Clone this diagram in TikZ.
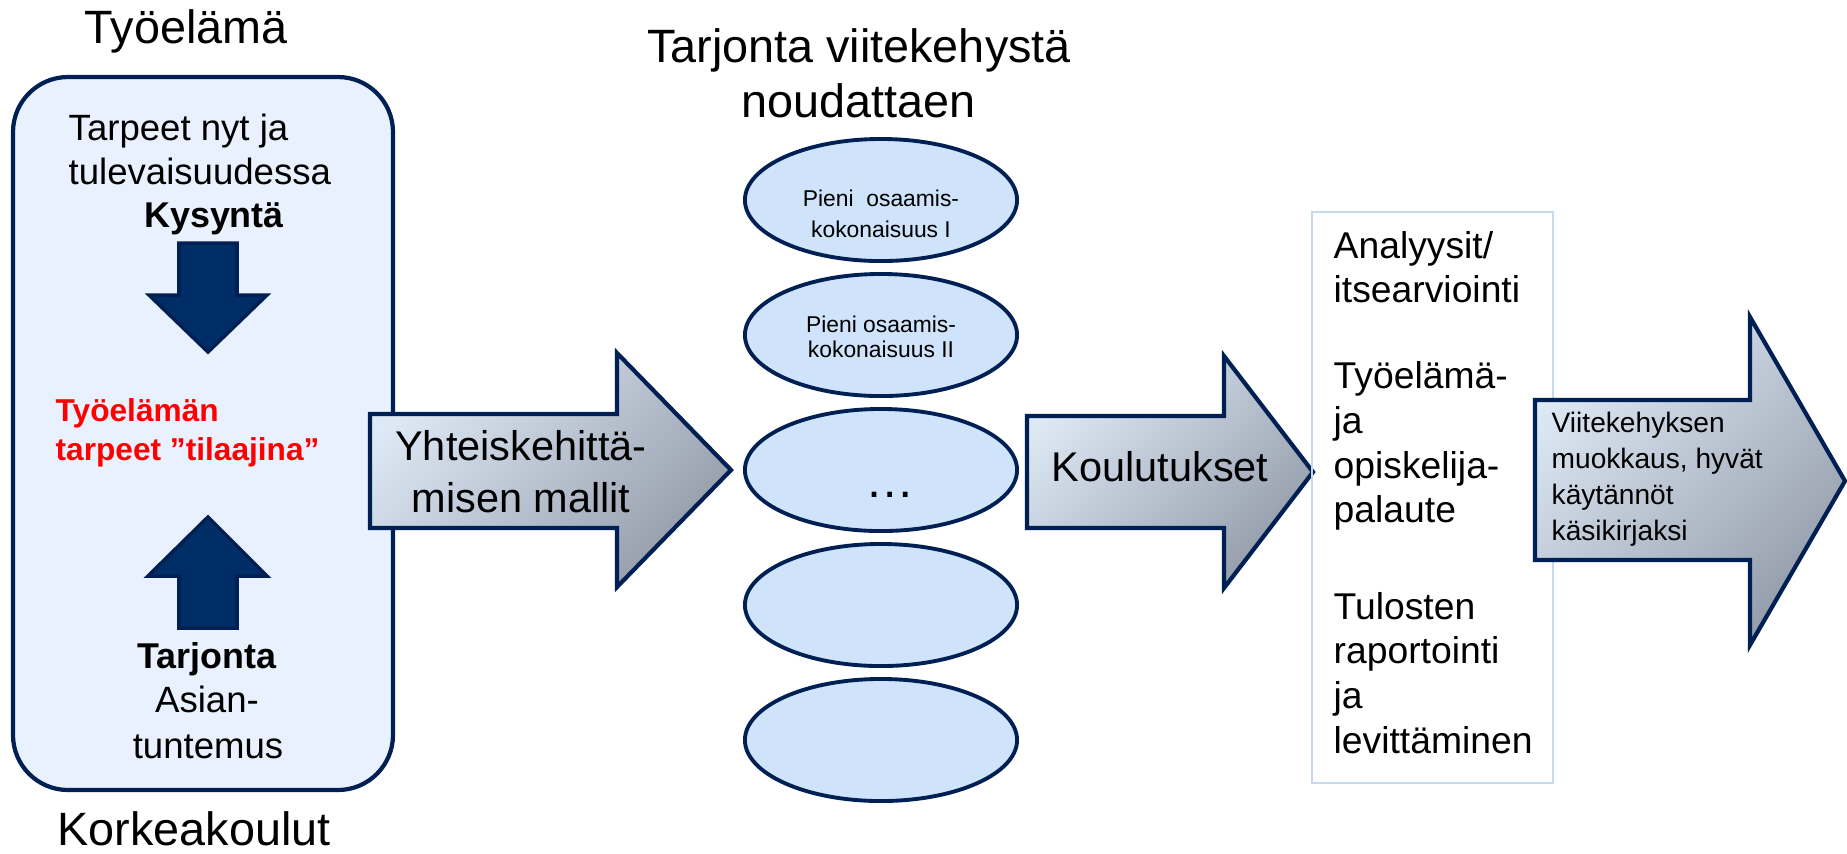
\documentclass[tikz,border=0pt]{standalone}
\usepackage{fontspec}
\setmainfont{Liberation Sans}
\usetikzlibrary{shapes.geometric}
\definecolor{navy}{RGB}{0,32,84}
\definecolor{navyfill}{RGB}{0,45,102}
\definecolor{boxfill}{RGB}{232,241,253}
\definecolor{ellfill}{RGB}{207,227,250}
\definecolor{shadelight}{RGB}{222,233,246}
\definecolor{shadedark}{RGB}{148,156,170}
\definecolor{thinblue}{RGB}{197,217,241}
\begin{document}
\begin{tikzpicture}[x=0.01cm,y=-0.01cm,
  txt/.style={inner sep=0pt,anchor=base},
  txtl/.style={inner sep=0pt,anchor=base west},
  titf/.style={font=\fontsize{13.3pt}{16pt}\selectfont},
  boxf/.style={font=\fontsize{10.4pt}{12.5pt}\selectfont},
  boxb/.style={font=\fontsize{10.2pt}{12.5pt}\selectfont\bfseries},
  redf/.style={font=\fontsize{9pt}{11pt}\selectfont\bfseries,text=red},
  arrf/.style={font=\fontsize{11.8pt}{14pt}\selectfont},
  listf/.style={font=\fontsize{10.6pt}{12.5pt}\selectfont},
  ellf/.style={font=\fontsize{6.5pt}{8pt}\selectfont},
  smallf/.style={font=\fontsize{8pt}{10pt}\selectfont},
  bigarrow/.style={draw=navy,line width=1.2pt,top color=shadelight,bottom color=shadedark,shading angle=45},
  smallarrow/.style={draw=navy,fill=navyfill,line width=1pt},
  pala/.style={ellipse,draw=navy,fill=ellfill,line width=1.1pt,minimum width=2.72cm,minimum height=1.22cm,inner sep=0pt}]
\useasboundingbox (0,0) rectangle (1847,853);

% tyoelama / korkeakoulut
\node[txt,titf] (tyoelama) at (186,43) {Työelämä};
\draw[navy,line width=1.2pt,fill=boxfill,rounded corners=0.55cm] (13,77) rectangle (393,790);
\node[txtl,boxf] (tarpeet1) at (68,140) {Tarpeet nyt ja};
\node[txtl,boxf] (tarpeet2) at (68,184) {tulevaisuudessa};
\node[txt,boxb] (kysynta) at (214,227) {Kysyntä};
\draw[smallarrow] (179,243) -- (237,243) -- (237,295) -- (267,295) -- (208,352)
  -- (149,295) -- (179,295) -- cycle;
\node[txtl,redf] (tilaaja1) at (55,421) {Työelämän};
\node[txtl,redf] (tilaaja2) at (55,460) {tarpeet ”tilaajina”};
\draw[smallarrow] (179,628) -- (237,628) -- (237,576) -- (267,576) -- (208,517)
  -- (148,576) -- (179,576) -- cycle;
\node[txt,boxb] (tarjonta) at (207,668) {Tarjonta};
\node[txt,boxf] (asian1) at (207,712) {Asian-};
\node[txt,boxf] (asian2) at (208,758) {tuntemus};
\node[txt,titf] (korkea) at (194,845) {Korkeakoulut};

% yhteiskehittamisen mallit
\draw[bigarrow] (370,414) -- (617,414) -- (617,353) -- (731,470) -- (617,587)
  -- (617,528) -- (370,528) -- cycle;
\node[txt,arrf] (yhteis1) at (521,460) {Yhteiskehittä-};
\node[txt,arrf] (yhteis2) at (521,512) {misen mallit};

% osaamiskokonaisuudet
\node[txt,titf] (tarjtit1) at (859,62) {Tarjonta viitekehystä};
\node[txt,titf] (tarjtit2) at (859,117) {noudattaen};
\foreach \i in {1,...,5}
  \node[pala] (e\i) at (881,{200+135*(\i-1)}) {};
\node[txt,ellf] at (881,206) {Pieni\ \ osaamis-};
\node[txt,ellf] at (881,237) {kokonaisuus I};
\node[txt,ellf] at (881,332) {Pieni osaamis-};
\node[txt,ellf] at (881,357) {kokonaisuus II};
\node[txt,font=\fontsize{14pt}{16pt}\selectfont] (dots) at (890,497) {…};

% koulutukset
\draw[bigarrow] (1027,416) -- (1224,416) -- (1224,356) -- (1313,472) -- (1224,588)
  -- (1224,528) -- (1027,528) -- cycle;
\node[txt,arrf] (koulutus) at (1160,481) {Koulutukset};

% palaute
\draw[thinblue,line width=0.6pt] (1312,212) rectangle (1553,783);
\foreach \yy/\t [count=\i] in {258/{Analyysit/},302/itsearviointi,388/Työelämä-,433/ja,
  478/opiskelija-,522/palaute,619/Tulosten,663/raportointi,708/ja,753/levittäminen}
  \node[txtl,listf] (rivi\i) at (1333,\yy) {\t};

% viitekehyksen muokkaus
\draw[bigarrow] (1535,400) -- (1750,400) -- (1750,317) -- (1845,481) -- (1750,645)
  -- (1750,560) -- (1535,560) -- cycle;
\foreach \yy/\t [count=\i] in {432/Viitekehyksen,468/{muokkaus, hyvät},504/käytännöt,540/käsikirjaksi}
  \node[txtl,smallf] (muok\i) at (1551,\yy) {\t};
\end{tikzpicture}
\end{document}
